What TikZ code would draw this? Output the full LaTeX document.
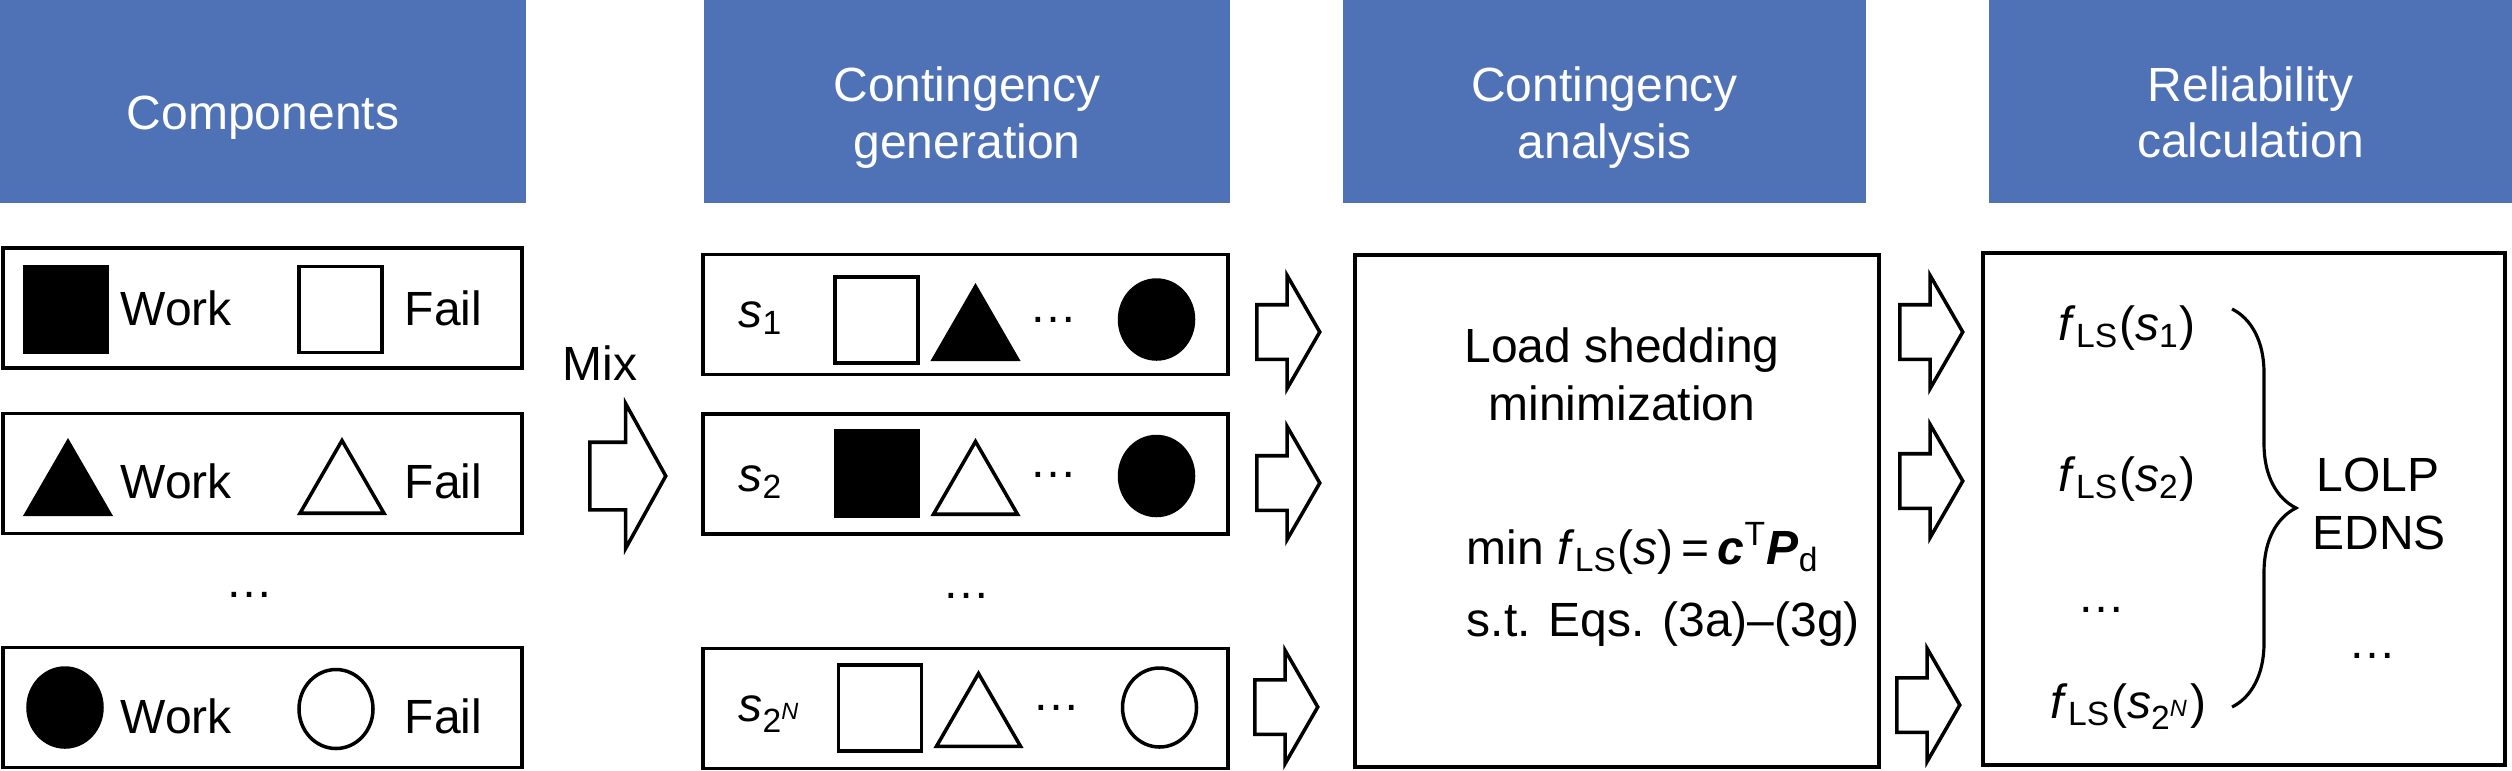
\documentclass[tikz,border=0pt]{standalone}
\usepackage{fontspec}
\setmainfont{Liberation Sans}
\usetikzlibrary{shapes.geometric,shapes.arrows,decorations.pathreplacing}
\definecolor{headblue}{RGB}{79,114,182}

\begin{document}
\begin{tikzpicture}[
  every node/.style={font=\fontsize{13.66}{16}\selectfont,inner sep=0pt},
  headbox/.style={fill=headblue,minimum height=2.03cm},
  headtext/.style={text=white,align=center},
  box/.style={draw,line width=1.1pt},
  sq/.style={draw,line width=1pt,minimum width=0.83cm,minimum height=0.86cm},
  tri/.style={regular polygon,regular polygon sides=3,draw,line width=1pt,minimum size=0.97cm,anchor=south},
  oval/.style={ellipse,draw,line width=1pt,minimum width=0.74cm,minimum height=0.79cm},
  fatarrow/.style={single arrow,draw,line width=1pt,anchor=tail,inner xsep=0pt,inner ysep=0.255cm,single arrow tip angle=120,single arrow head extend=0.295cm,minimum height=0.63cm},
]
\useasboundingbox (0,0) rectangle (25.12,-7.70);

% headers
\node (h1) at (2.63,-1.015) [headbox,minimum width=5.26cm] {};
\node (h2) at (9.67,-1.015) [headbox,minimum width=5.26cm] {};
\node (h3) at (16.045,-1.015) [headbox,minimum width=5.23cm] {};
\node (h4) at (22.505,-1.015) [headbox,minimum width=5.23cm] {};
\node (t1) at ([yshift=-0.16cm]h1.center) [headtext] {Components};
\node (t2) at ([yshift=-0.16cm]h2.center) [headtext] {Contingency\\generation};
\node (t3) at ([yshift=-0.16cm]h3.center) [headtext] {Contingency\\analysis};
\node (t4) at ([yshift=-0.11cm]h4.center) [headtext] {Reliability\\calculation};

% components
\node (c1) at (2.625,-3.08) [box,minimum width=5.19cm,minimum height=1.2cm] {};
\node (c1a) at (0.66,-3.095) [sq,fill=black] {};
\node (c1w) at (1.20,-3.25) [anchor=base west] {Work};
\node (c1b) at (3.405,-3.095) [sq] {};
\node (c1f) at (4.04,-3.25) [anchor=base west] {Fail};

\node (c2) at (2.625,-4.735) [box,minimum width=5.19cm,minimum height=1.2cm] {};
\node (c2a) at (0.68,-5.16) [tri,fill=black] {};
\node (c2w) at (1.20,-4.98) [anchor=base west] {Work};
\node (c2b) at (3.42,-5.15) [tri] {};
\node (c2f) at (4.04,-4.98) [anchor=base west] {Fail};

\node (cdots) at (2.50,-5.975) [anchor=base] {…};

\node (c3) at (2.625,-7.075) [box,minimum width=5.19cm,minimum height=1.2cm] {};
\node (c3a) at (0.65,-7.075) [oval,fill=black] {};
\node (c3w) at (1.20,-7.33) [anchor=base west] {Work};
\node (c3b) at (3.36,-7.09) [oval] {};
\node (c3f) at (4.04,-7.33) [anchor=base west] {Fail};

% mixing
\node (mix) at (6.00,-3.80) [anchor=base] {Mix};
\node (am) at (5.88,-4.76) [fatarrow,inner ysep=0.32cm,minimum height=0.76cm,single arrow head extend=0.385cm,single arrow tip angle=122] {};

% contingency generation
\node (g1) at (9.655,-3.145) [box,minimum width=5.25cm,minimum height=1.2cm] {};
\node (g1s) at (7.38,-3.27) [anchor=base west] {\textit{s}\textsubscript{1}};
\node (g1a) at (8.765,-3.20) [sq] {};
\node (g1b) at (9.755,-3.61) [tri,fill=black] {};
\node (g1d) at (10.53,-3.225) [anchor=base] {…};
\node (g1c) at (11.565,-3.195) [oval,fill=black] {};

\node (g2) at (9.655,-4.74) [box,minimum width=5.25cm,minimum height=1.2cm] {};
\node (g2s) at (7.38,-4.91) [anchor=base west] {\textit{s}\textsubscript{2}};
\node (g2a) at (8.77,-4.735) [sq,fill=black] {};
\node (g2b) at (9.755,-5.16) [tri] {};
\node (g2d) at (10.53,-4.775) [anchor=base] {…};
\node (g2c) at (11.565,-4.76) [oval,fill=black] {};

\node (gdots) at (9.66,-5.985) [anchor=base] {…};

\node (g3) at (9.655,-7.085) [box,minimum width=5.25cm,minimum height=1.2cm] {};
\node (g3s) at (7.38,-7.21) [anchor=base west] {\textit{s}\textsubscript{2\textsuperscript{\textit{N}}}};
\node (g3a) at (8.80,-7.08) [sq] {};
\node (g3b) at (9.785,-7.48) [tri] {};
\node (g3d) at (10.565,-7.105) [anchor=base] {…};
\node (g3c) at (11.595,-7.075) [oval] {};

\node (ag1) at (12.55,-3.32) [fatarrow] {};
\node (ag2) at (12.55,-4.83) [fatarrow] {};
\node (ag3) at (12.53,-7.07) [fatarrow] {};

% contingency analysis
\node (ca) at (16.17,-5.11) [box,minimum width=5.24cm,minimum height=5.12cm] {};
\node (ca1) at (16.22,-3.62) [anchor=base] {Load shedding};
\node (ca2) at (16.22,-4.20) [anchor=base] {minimization};
\node (ca3) at (14.66,-5.64) [anchor=base west] {min \textit{f}\textsubscript{LS}(\textit{s})\,=\,\textbf{\textit{c}}\textsuperscript{T}\textbf{\textit{P}}\textsubscript{d}};
\node (ca4) at (14.66,-6.36) [anchor=base west] {s.t. Eqs. (3a)–(3g)};

\node (aa1) at (18.98,-3.32) [fatarrow] {};
\node (aa2) at (18.98,-4.81) [fatarrow] {};
\node (aa3) at (18.95,-7.05) [fatarrow] {};

% reliability calculation
\node (rc) at (22.44,-5.09) [box,minimum width=5.22cm,minimum height=5.12cm] {};
\node (rc1) at (20.58,-3.40) [anchor=base west] {\textit{f}\textsubscript{LS}(\textit{s}\textsubscript{1})};
\node (rc2) at (20.58,-4.91) [anchor=base west] {\textit{f}\textsubscript{LS}(\textit{s}\textsubscript{2})};
\node (rcdots) at (21.01,-6.125) [anchor=base] {…};
\node (rc3) at (20.50,-7.18) [anchor=base west] {\textit{f}\textsubscript{LS}(\textit{s}\textsubscript{2\textsuperscript{\textit{N}}})};
\coordinate (bt) at (22.32,-3.09);
\coordinate (bb) at (22.32,-7.07);
\draw[line width=0.9pt,decorate,decoration={brace,amplitude=0.64cm}] (bt) -- (bb);
\node (lolp) at (23.78,-4.91) [anchor=base] {LOLP};
\node (edns) at (23.79,-5.49) [anchor=base] {EDNS};
\node (rdots) at (23.72,-6.585) [anchor=base] {…};

\end{tikzpicture}
\end{document}
